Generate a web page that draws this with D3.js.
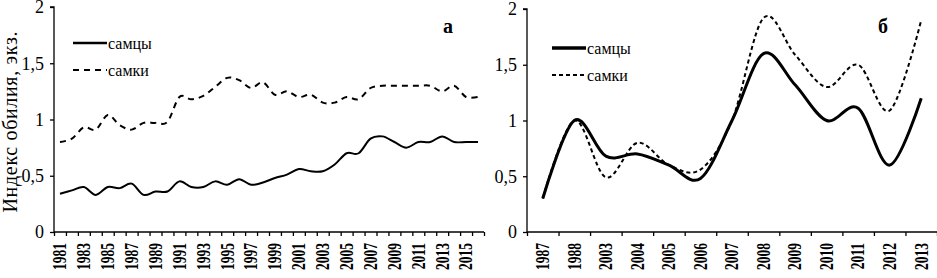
<!DOCTYPE html>
<html>
<head>
<meta charset="utf-8">
<script src="https://cdn.jsdelivr.net/npm/d3@7"></script>
<style>
  body { margin: 0; background: #fff; }
  .axis path, .axis line { stroke: #000; stroke-width: 1.3; }
</style>
</head>
<body>
<div id="chart"></div>
<script>
// DATA

// panel a
let years_a = ["1981","1982","1983","1984","1985","1986","1987","1988","1989","1990",
               "1991","1992","1993","1994","1995","1996","1997","1998","1999","2000",
               "2001","2002","2003","2004","2005","2006","2007","2008","2009","2010",
               "2011","2012","2013","2014","2015","2016"]
let males_a = [0.34,0.37,0.40,0.33,0.40,0.39,0.43,0.33,0.36,0.36,
               0.45,0.40,0.40,0.45,0.42,0.47,0.42,0.44,0.48,0.51,
               0.56,0.54,0.54,0.60,0.70,0.70,0.83,0.85,0.80,0.75,
               0.80,0.80,0.85,0.80,0.80,0.80]
let females_a = [0.80,0.83,0.93,0.91,1.04,0.95,0.91,0.97,0.97,0.98,
                 1.20,1.18,1.21,1.29,1.37,1.35,1.28,1.33,1.22,1.25,
                 1.20,1.22,1.15,1.15,1.20,1.18,1.28,1.30,1.30,1.30,
                 1.30,1.30,1.25,1.30,1.20,1.20]

// panel б
let years_b = ["1987","1988","2003","2004","2005","2006","2007","2008","2009","2010","2011","2012","2013"]
let males_b = [0.30,1.00,0.68,0.70,0.60,0.48,1.00,1.60,1.32,1.00,1.11,0.60,1.20]
let females_b = [0.30,1.00,0.49,0.80,0.60,0.56,1.00,1.92,1.59,1.30,1.50,1.09,1.90]

let y_ticks = [0, 0.5, 1, 1.5, 2]
let legend_names = ["самцы", "самки"]

// CHART AREA
let font = "Liberation Serif"

let svg = d3.select("#chart").append("svg")
    .attr("width", 937)
    .attr("height", 278)

function drawPanel(opt) {
    let g = svg.append("g")

    // scales
    let x = d3.scaleBand()
        .domain(opt.years)
        .range([opt.left, opt.right])
        .padding(0)

    let x_edges = d3.scaleLinear()
        .domain([0, opt.years.length])
        .range([opt.left, opt.right])

    let y = d3.scaleLinear()
        .domain([0, 2])
        .range([232, opt.top])

    // y axis
    g.append("g")
        .attr("class", "axis")
        .attr("transform", "translate(" + opt.left + ",0)")
        .call(d3.axisLeft(y).tickValues(y_ticks).tickSize(4).tickPadding(6)
            .tickFormat(d => String(d).replace(".", ",")))
        .call(a => a.select(".domain").attr("d", "M-4," + opt.top + "H0V232"))
        .selectAll("text").style("font-size", "18px")

    // x axis ticks between categories
    g.append("g")
        .attr("class", "axis")
        .attr("transform", "translate(0,232)")
        .call(d3.axisBottom(x_edges).tickValues(d3.range(opt.years.length + 1))
            .tickSize(4).tickFormat(""))
        .call(a => a.select(".domain").attr("d", "M" + opt.left + ",0H" + opt.right))

    // x labels
    let sx = 0.75
    g.append("g")
        .attr("class", "axis")
        .attr("transform", "translate(0,232)")
        .call(d3.axisBottom(x).tickValues(opt.years.filter((d, i) => i % opt.every == 0)).tickSize(0))
        .call(a => a.select(".domain").remove())
        .selectAll("text")
        .attr("transform", "rotate(-90) scale(" + sx + ",1)")
        .attr("x", -11 / sx)
        .attr("y", 0)
        .attr("dy", "0.35em")
        .style("text-anchor", "end")
        .style("font-size", "18px")
        .style("font-weight", "bold")

    // lines
    let line = d3.line()
        .x((d, i) => x(opt.years[i]) + x.bandwidth() / 2)
        .y(d => y(d))
        .curve(d3.curveCatmullRom.alpha(0))

    g.append("path")
        .datum(opt.females)
        .attr("d", line)
        .attr("fill", "none")
        .attr("stroke", "#000")
        .attr("stroke-width", opt.dashWidth)
        .attr("stroke-dasharray", opt.dash)

    g.append("path")
        .datum(opt.males)
        .attr("d", line)
        .attr("fill", "none")
        .attr("stroke", "#000")
        .attr("stroke-width", opt.solidWidth)

    // legend
    let leg = g.append("g")
    legend_names.forEach((name, i) => {
        let ly = opt.legY[i]
        leg.append("line")
            .attr("x1", opt.legX).attr("x2", opt.legX + 34)
            .attr("y1", ly).attr("y2", ly)
            .attr("stroke", "#000")
            .attr("stroke-width", i == 0 ? opt.solidWidth + 0.5 : opt.dashWidth)
            .attr("stroke-dasharray", i == 0 ? null : opt.dash)
        leg.append("text")
            .attr("x", opt.legX + 35)
            .attr("y", ly + 6)
            .style("font-size", "16px")
            .text(name)
    })

    // panel letter
    g.append("text")
        .attr("x", opt.letterX)
        .attr("y", 33)
        .style("font-size", "20px")
        .style("font-weight", "bold")
        .text(opt.letter)
}

drawPanel({
    years: years_a, males: males_a, females: females_a,
    left: 54, right: 484, top: 7, every: 2,
    solidWidth: 2, dashWidth: 2, dash: "6,5",
    legX: 73, legY: [43, 70],
    letter: "а", letterX: 443
})

drawPanel({
    years: years_b, males: males_b, females: females_b,
    left: 527, right: 937, top: 9, every: 1,
    solidWidth: 3, dashWidth: 2, dash: "4,3",
    legX: 552, legY: [48, 75],
    letter: "б", letterX: 878
})

// y axis title
svg.append("text")
    .attr("transform", "translate(17,122) rotate(-90)")
    .attr("text-anchor", "middle")
    .attr("textLength", 181)
    .style("font-size", "20px")
    .text("Индекс обилия, экз.")

// serif everywhere (axis groups set their own sans-serif)
svg.selectAll("g").attr("font-family", font)
svg.selectAll("text")
    .attr("font-family", font)
    .style("font-family", font)
    .attr("fill", "#000")
</script>
</body>
</html>
